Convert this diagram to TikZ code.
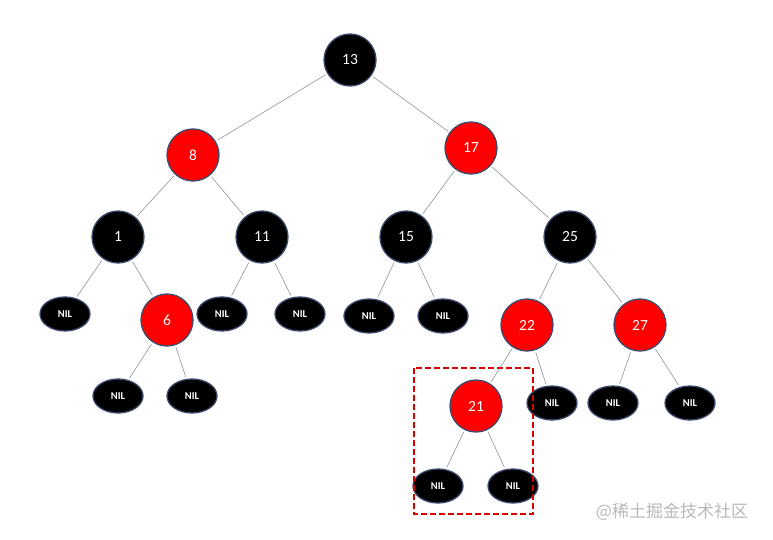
\documentclass[tikz,border=0pt]{standalone}
\usepackage{fontspec}
\setmainfont{Carlito}
\newfontfamily\wmfont{Noto Sans CJK SC}
\usetikzlibrary{shapes.geometric}
\definecolor{rim}{HTML}{3E4A6E}
\definecolor{edgegray}{HTML}{8E949C}

\begin{document}
\begin{tikzpicture}[x=1pt,y=-1pt]
\tikzset{rbnode/.style={circle,minimum size=52pt,inner sep=0pt,draw=rim,line width=1.3pt,text=white,font=\fontsize{15.5}{17}\selectfont}}
\tikzset{blk/.style={rbnode,fill=black}, rd/.style={rbnode,fill=red}}
\tikzset{nil/.style={ellipse,minimum width=50pt,minimum height=34pt,inner sep=0pt,fill=black,draw=rim,line width=1.3pt,text=white,font=\bfseries\fontsize{10.5}{12}\selectfont}}
\tikzset{link/.style={draw=edgegray,line width=0.6pt,shorten >=2pt,shorten <=2pt}}
\useasboundingbox[fill=white] (0,0) rectangle (773,540);

\node[blk] (n13) at (350,60) {13};
\node[rd] (n8) at (193,155) {8};
\node[rd] (n17) at (471,148) {17};
\node[blk] (n1) at (118,237) {1};
\node[blk] (n11) at (262,237) {11};
\node[blk] (n15) at (406,237) {15};
\node[blk] (n25) at (570,237) {25};
\node[rd] (n6) at (167,320) {6};
\node[rd] (n22) at (527,325) {22};
\node[rd] (n27) at (640,325) {27};
\node[rd] (n21) at (476,406) {21};

\node[nil] (l1) at (65,314) {NIL};
\node[nil] (l11a) at (222,314) {NIL};
\node[nil] (l11b) at (300,314) {NIL};
\node[nil] (l15a) at (369,316) {NIL};
\node[nil] (l15b) at (443,316) {NIL};
\node[nil] (l6a) at (118,396) {NIL};
\node[nil] (l6b) at (192,396) {NIL};
\node[nil] (l22) at (552,403) {NIL};
\node[nil] (l27a) at (613,403) {NIL};
\node[nil] (l27b) at (690,403) {NIL};
\node[nil] (l21a) at (438,486) {NIL};
\node[nil] (l21b) at (513,486) {NIL};

\draw[link] (n13) -- (n8);
\draw[link] (n13) -- (n17);
\draw[link] (n8) -- (n1);
\draw[link] (n8) -- (n11);
\draw[link] (n17) -- (n15);
\draw[link] (n17) -- (n25);
\draw[link] (n1) -- (l1);
\draw[link] (n1) -- (n6);
\draw[link] (n11) -- (l11a);
\draw[link] (n11) -- (l11b);
\draw[link] (n15) -- (l15a);
\draw[link] (n15) -- (l15b);
\draw[link] (n25) -- (n22);
\draw[link] (n25) -- (n27);
\draw[link] (n6) -- (l6a);
\draw[link] (n6) -- (l6b);
\draw[link] (n22) -- (n21);
\draw[link] (n22) -- (l22);
\draw[link] (n27) -- (l27a);
\draw[link] (n27) -- (l27b);
\draw[link] (n21) -- (l21a);
\draw[link] (n21) -- (l21b);

\draw[red!85!black,line width=1.6pt,dash pattern=on 6pt off 3pt] (414,368) rectangle (533,514);

\node[text=gray!55,font=\wmfont\fontsize{17}{19}\selectfont] (mark) at (672,512) {@稀土掘金技术社区};
\end{tikzpicture}
\end{document}
